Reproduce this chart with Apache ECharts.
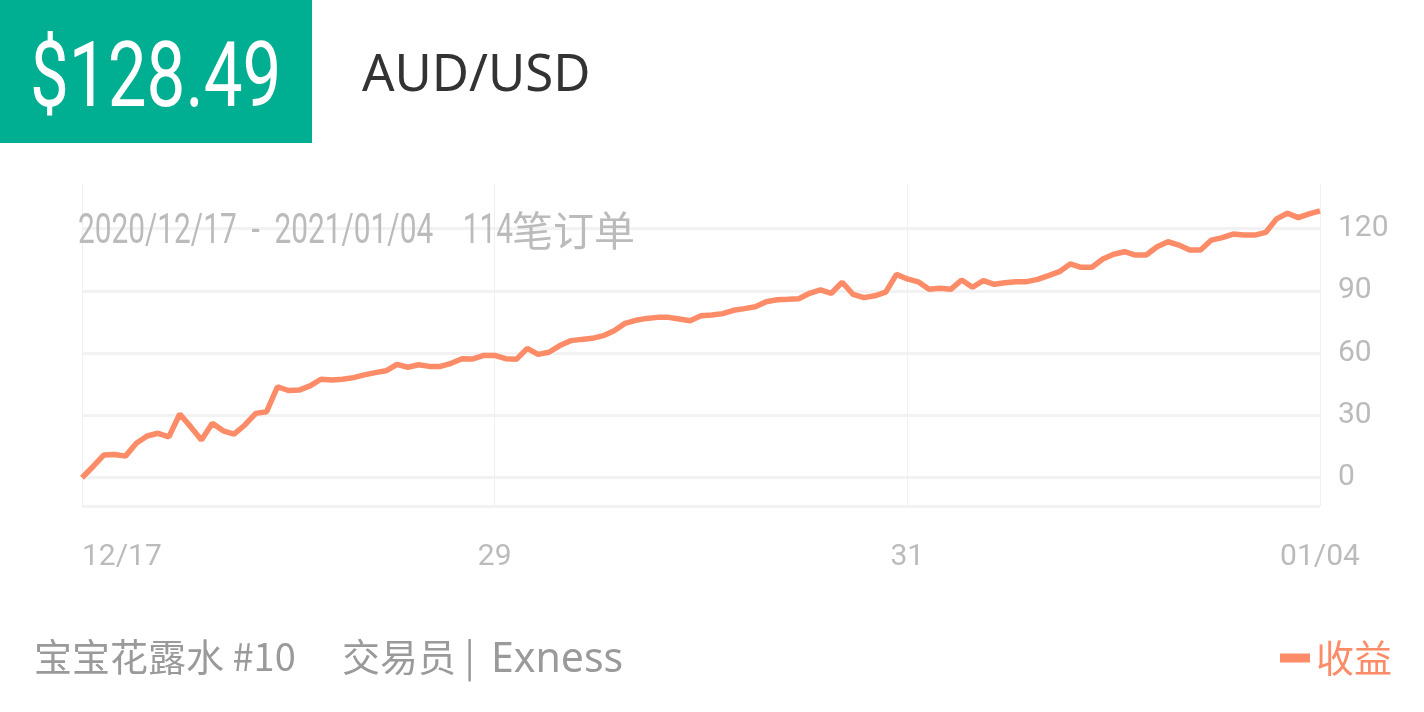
<!DOCTYPE html>
<html><head><meta charset="utf-8">
<script src="https://cdn.jsdelivr.net/npm/echarts@6/dist/echarts.min.js"></script>
<style>html,body{margin:0;padding:0;background:#fff}#c{width:1424px;height:712px}</style>
</head><body><div id="c"></div>
<script>
// ---- data ----
const profit = [
  0, 5.3, 10.9, 11.2, 10.4, 16.6, 20.1, 21.4, 19.7, 30.7,
  24.6, 18.2, 26.2, 22.6, 21.0, 25.4, 31.0, 31.8, 43.8, 42.0,
  42.2, 44.2, 47.4, 47.0, 47.4, 48.2, 49.5, 50.6, 51.5, 54.6,
  53.2, 54.4, 53.6, 53.6, 55.1, 57.3, 57.2, 58.9, 58.9, 57.3,
  57.0, 62.3, 59.4, 60.4, 63.6, 66.0, 66.6, 67.1, 68.4, 70.8,
  74.3, 75.8, 76.7, 77.2, 77.2, 76.4, 75.6, 78.0, 78.3, 79.0,
  80.6, 81.4, 82.3, 84.7, 85.7, 85.9, 86.2, 88.8, 90.4, 88.8,
  94.1, 88.3, 86.7, 87.6, 89.3, 97.9, 95.7, 94.3, 90.7, 91.2,
  90.7, 95.2, 91.7, 94.9, 93.1, 93.9, 94.4, 94.4, 95.5, 97.3,
  99.2, 102.9, 101.3, 101.3, 105.3, 107.6, 108.8, 107.2, 107.2, 111.2,
  113.6, 112.0, 109.6, 109.6, 114.4, 115.6, 117.3, 116.8, 116.8, 118.1,
  124.6, 127.3, 125.2, 127.0, 128.49
];
const xTickIndex = [0, 38, 76, 114];
const xTickLabels = ['12/17', '29', '31', '01/04'];
const yTickValues = [0, 30, 60, 90, 120];
const yRange = [-13.6, 141.4];
const totalLabel = '$128.49';
const pairLabel = 'AUD/USD';
const periodLabel = '2020/12/17  -  2021/01/04    114';
const orderLabel = '笔订单';
const traderLabel = '宝宝花露水 #10';
const roleLabel = '交易员 |';
const brokerLabel = 'Exness';
const seriesName = '收益';

// ---- chart ----
const categories = profit.map((_, i) => String(i + 1));
const lineColor = '#fc8c68';
const isTick = (i) => xTickIndex.indexOf(i) >= 0;

const chart = echarts.init(document.getElementById('c'), null, {renderer: 'canvas'});
chart.setOption({
  animation: false,
  backgroundColor: '#fff',
  grid: {left: 82, right: 104, top: 184, bottom: 206, containLabel: false},
  xAxis: {
    type: 'category', data: categories, boundaryGap: false,
    axisLine: {show: false}, axisTick: {show: false},
    axisLabel: {
      interval: (i) => isTick(i),
      formatter: (v, i) => xTickLabels[xTickIndex.indexOf(i)] || '',
      color: '#bbbbbb', fontSize: 30, fontFamily: 'Roboto', margin: 36,
      alignMinLabel: 'left'
    },
    splitLine: {show: true, interval: (i) => isTick(i), lineStyle: {color: '#f0f0f0', width: 1}}
  },
  yAxis: {
    type: 'value', position: 'right', min: yRange[0], max: yRange[1], splitNumber: 5,
    axisLine: {show: false}, axisTick: {show: false},
    axisLabel: {
      showMinLabel: false, showMaxLabel: false, margin: 18,
      formatter: (v) => yTickValues.indexOf(v) >= 0 ? String(v) : '',
      color: '#bbbbbb', fontSize: 30, fontFamily: 'Roboto'
    },
    splitLine: {show: true, showMaxLine: false, lineStyle: {color: '#f2f2f2', width: 3}}
  },
  legend: {
    data: [seriesName], right: 27, top: 634, icon: 'rect', itemWidth: 30, itemHeight: 9,
    textStyle: {color: lineColor, fontSize: 38, fontFamily: "'Noto Sans CJK SC'", padding: [0, 0, 0, 1]}
  },
  series: [{
    name: seriesName, type: 'line', data: profit, symbol: 'none', smooth: false,
    lineStyle: {color: lineColor, width: 5.5}, itemStyle: {color: lineColor}
  }],
  graphic: [
    {type: 'rect', left: 0, top: 0, shape: {x: 0, y: 0, width: 312, height: 143}, style: {fill: '#00ae91'}, z: 10},
    {type: 'text', x: 30, y: 83, scaleX: 0.76, z: 11,
      style: {text: totalLabel, fill: '#fff', font: "400 91px Roboto", textVerticalAlign: 'middle'}},
    {type: 'text', x: 362, y: 76, z: 11,
      style: {text: pairLabel, fill: '#333', font: "400 51px 'Noto Sans'", textVerticalAlign: 'middle'}},
    {type: 'text', x: 78, y: 232, scaleX: 0.71, z: 11,
      style: {text: periodLabel, fill: '#bbb', font: "400 42px Roboto", textVerticalAlign: 'middle'}},
    {type: 'text', x: 512, y: 230, z: 11,
      style: {text: orderLabel, fill: '#bbb', font: "400 41px 'Noto Sans CJK SC'", textVerticalAlign: 'middle'}},
    {type: 'text', x: 34, y: 657, z: 11,
      style: {text: traderLabel, fill: '#9a9a9a', font: "400 38px 'Noto Sans CJK SC'", textVerticalAlign: 'middle'}},
    {type: 'text', x: 342, y: 657, z: 11,
      style: {text: roleLabel, fill: '#9a9a9a', font: "400 38px 'Noto Sans CJK SC'", textVerticalAlign: 'middle'}},
    {type: 'text', x: 491, y: 660, z: 11,
      style: {text: brokerLabel, fill: '#9a9a9a', font: "400 41px 'Noto Sans'", textVerticalAlign: 'middle'}}
  ]
});
</script></body></html>
